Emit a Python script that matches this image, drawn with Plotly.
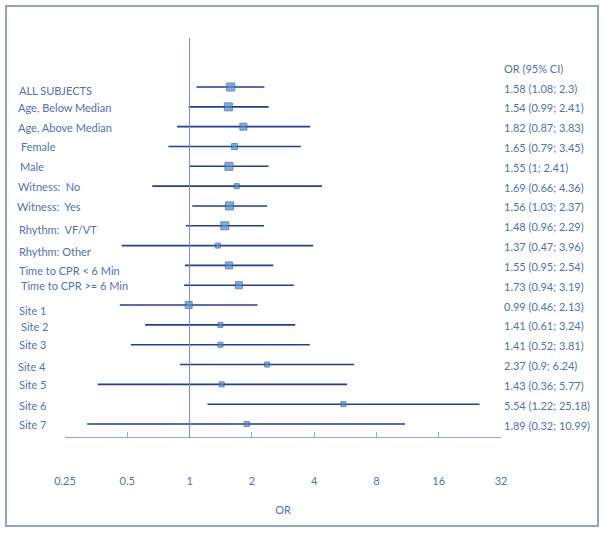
import plotly.graph_objects as go
import math

labels = ["ALL SUBJECTS", "Age, Below Median", "Age, Above Median", "Female", "Male",
          "Witness:  No", "Witness:  Yes", "Rhythm:  VF/VT", "Rhythm: Other",
          "Time to CPR < 6 Min", "Time to CPR >= 6 Min",
          "Site 1", "Site 2", "Site 3", "Site 4", "Site 5", "Site 6", "Site 7"]
or_vals = [1.58, 1.54, 1.82, 1.65, 1.55, 1.69, 1.56, 1.48, 1.37, 1.55, 1.73,
           0.99, 1.41, 1.41, 2.37, 1.43, 5.54, 1.89]
ci_low = [1.08, 0.99, 0.87, 0.79, 1, 0.66, 1.03, 0.96, 0.47, 0.95, 0.94,
          0.46, 0.61, 0.52, 0.9, 0.36, 1.22, 0.32]
ci_high = [2.3, 2.41, 3.83, 3.45, 2.41, 4.36, 2.37, 2.29, 3.96, 2.54, 3.19,
           2.13, 3.24, 3.81, 6.24, 5.77, 25.18, 10.99]
ci_text = ["1.58 (1.08; 2.3)", "1.54 (0.99; 2.41)", "1.82 (0.87; 3.83)", "1.65 (0.79; 3.45)",
           "1.55 (1; 2.41)", "1.69 (0.66; 4.36)", "1.56 (1.03; 2.37)", "1.48 (0.96; 2.29)",
           "1.37 (0.47; 3.96)", "1.55 (0.95; 2.54)", "1.73 (0.94; 3.19)", "0.99 (0.46; 2.13)",
           "1.41 (0.61; 3.24)", "1.41 (0.52; 3.81)", "2.37 (0.9; 6.24)", "1.43 (0.36; 5.77)",
           "5.54 (1.22; 25.18)", "1.89 (0.32; 10.99)"]
tick_vals = [0.25, 0.5, 1, 2, 4, 8, 16, 32]
tick_text = ["0.25", "0.5", "1", "2", "4", "8", "16", "32"]

# style
marker_sizes = [8, 8, 7, 6, 8, 5, 8, 8, 5, 7, 7, 7, 5, 5, 5, 5, 5, 5]
label_yshift = [-3, -1, -1, 0, 0, 0, -1, -4, -6, -5, 0, -5, -2, 0, -2, 0, -1, 0]
label_xshift = [1, 0, 0, 3, 2, 0, -1, 1, 1, 1, 3, 1, 3, 1, 0, 1, 1, 1]

TXT = "#4D72B6"
LINE = "#1F3E9E"
AX = "#8FA8D2"
FONT = "Lato"

rows = list(range(len(labels)))
W, H = 604, 533
L, R, T, B = 65, 501, 38, 437

fig = go.Figure()
for i in rows:
    fig.add_trace(go.Scatter(x=[ci_low[i], ci_high[i]], y=[i, i], mode="lines",
                             line=dict(color=LINE, width=1.6), showlegend=False,
                             hoverinfo="skip"))
fig.add_trace(go.Scatter(x=or_vals, y=rows, mode="markers",
                         marker=dict(symbol="square", size=marker_sizes, color="#4F8BCB",
                                     line=dict(color="#2B5BA6", width=1)),
                         showlegend=False))

def px2paper_x(px):
    return (px - L) / (R - L)

def px2paper_y(py):
    return (B - py) / (B - T)

annotations = []
for i in rows:
    annotations.append(dict(x=px2paper_x(16), xref="paper", y=i, yref="y", text=labels[i],
                            showarrow=False, xanchor="left", yanchor="middle",
                            yshift=label_yshift[i], xshift=label_xshift[i],
                            font=dict(family=FONT, size=11, color=TXT)))
    annotations.append(dict(x=px2paper_x(502), xref="paper", y=i, yref="y", text=ci_text[i],
                            showarrow=False, xanchor="left", yanchor="middle", yshift=-1,
                            font=dict(family=FONT, size=11, color=TXT)))
annotations.append(dict(x=px2paper_x(502), xref="paper", y=px2paper_y(68), yref="paper",
                        text="OR (95% CI)", showarrow=False, xanchor="left", yanchor="middle",
                        font=dict(family=FONT, size=11, color=TXT)))

shapes = [
    dict(type="line", xref="x", yref="paper", x0=1, x1=1, y0=0, y1=1,
         line=dict(color="#6E8EC4", width=1)),
    dict(type="rect", xref="paper", yref="paper",
         x0=px2paper_x(6), x1=px2paper_x(598), y0=px2paper_y(526), y1=px2paper_y(6),
         line=dict(color="#8EA6CE", width=2)),
]

row_px = 19.82
top_row_px, bot_row_px = 87, 424
y_top = -(top_row_px - T) / row_px
y_bot = (len(labels) - 1) + (B - bot_row_px) / row_px

fig.update_layout(
    width=W, height=H,
    margin=dict(l=L, r=W - R, t=T, b=H - B),
    paper_bgcolor="white", plot_bgcolor="white",
    annotations=annotations, shapes=shapes,
    xaxis=dict(type="log", range=[math.log10(0.25), math.log10(32)],
               tickvals=tick_vals, ticktext=tick_text, showgrid=False, zeroline=False,
               showline=True, linecolor=AX, linewidth=1, ticks="inside", ticklen=5,
               tickcolor=AX, tickwidth=1, ticklabelstandoff=34,
               tickfont=dict(family=FONT, size=11, color=TXT),
               title=dict(text="OR", font=dict(family=FONT, size=11, color=TXT), standoff=20)),
    yaxis=dict(range=[y_bot, y_top], showgrid=False, zeroline=False, showticklabels=False,
               showline=False),
)

fig.write_html("out.html", config={"displayModeBar": False},
               post_script="document.body.style.margin='0';document.body.style.overflow='hidden';")
